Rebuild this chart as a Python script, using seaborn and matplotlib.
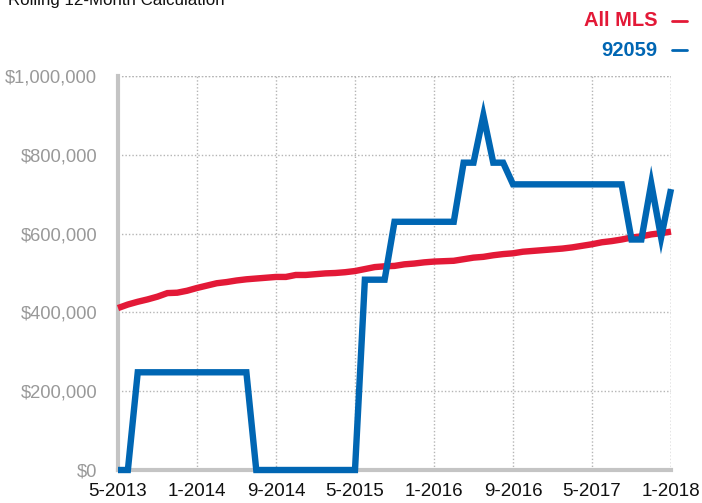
import matplotlib
matplotlib.use("Agg")
import matplotlib.pyplot as plt
import seaborn as sns
import pandas as pd
import numpy as np

tick_labels = ["5-2013", "1-2014", "9-2014", "5-2015", "1-2016", "9-2016", "5-2017", "1-2018"]

all_mls = [411, 420, 427, 433, 440, 449, 450, 455, 462, 468,
           474, 477, 481, 484, 486, 488, 490, 490, 495, 495,
           497, 499, 500, 502, 505, 510, 515, 517, 518, 522,
           524, 527, 529, 530, 531, 535, 539, 541, 545, 548,
           550, 554, 556, 558, 560, 562, 565, 569, 573, 578,
           581, 585, 590, 593, 598, 601, 605]

zip_92059 = [0, 0, 248, 248, 248, 248, 248, 248, 248, 248,
             248, 248, 248, 248, 0, 0, 0, 0, 0, 0,
             0, 0, 0, 0, 0, 483, 483, 483, 630, 630,
             630, 630, 630, 630, 630, 780, 780, 900, 780, 780,
             725, 725, 725, 725, 725, 725, 725, 725, 725, 725,
             725, 725, 585, 585, 727, 590, 713]

months = list(range(len(all_mls)))
df = pd.DataFrame({
    "month": months * 2,
    "price": [v * 1000 for v in all_mls] + [v * 1000 for v in zip_92059],
    "series": ["All MLS"] * len(all_mls) + ["92059"] * len(zip_92059),
})

sns.set_theme(style="white")
plt.rcParams['font.family'] = ['Liberation Sans', 'DejaVu Sans']

RED = "#E31937"
BLUE = "#0066B3"

fig = plt.figure(figsize=(7.02, 5.03), dpi=100)
ax = fig.add_axes([118 / 702, 1 - 470 / 503, (671 - 118) / 702, (470 - 76) / 503])

sns.lineplot(data=df, x="month", y="price", hue="series",
             palette={"All MLS": RED, "92059": BLUE},
             hue_order=["All MLS", "92059"], linewidth=4.6, ax=ax,
             legend=False, zorder=3, clip_on=False)
for ln in ax.lines:
    ln.set_solid_joinstyle("miter")
    ln.set_solid_capstyle("butt")

ax.set_xlim(0, 56)
ax.set_ylim(0, 1_000_000)
ax.set_xticks(range(0, 57, 8))
ax.set_xticklabels(tick_labels)
yt = list(range(0, 1_000_001, 200_000))
ax.set_yticks(yt)
ax.set_yticklabels(["$0", "$200,000", "$400,000", "$600,000", "$800,000", "$1,000,000"])
ax.set_xlabel("")
ax.set_ylabel("")

ax.grid(True, linestyle=(0, (1, 1.5)), color="#b5b5b5", linewidth=1.0)
ax.set_axisbelow(True)
for s in ["top", "right"]:
    ax.spines[s].set_visible(False)
for s in ["left", "bottom"]:
    ax.spines[s].set_color("#c4c4c4")
    ax.spines[s].set_linewidth(3)
    ax.spines[s].set_zorder(2.5)

ax.tick_params(axis="x", colors="#c4c4c4", length=5, width=3, direction="out",
               labelcolor="#111111", labelsize=13.5, pad=4)
ax.tick_params(axis="y", length=0, labelcolor="#999999", labelsize=13.2, pad=15)

# top and right grid edge lines
ax.axhline(1_000_000, color="#b5b5b5", linestyle=(0, (1, 1.5)), linewidth=1.0, zorder=1)
ax.axvline(56, color="#b5b5b5", linestyle=(0, (1, 1.5)), linewidth=1.0, zorder=1)

# title (cropped at top, as in the reference)
fig.text(8 / 702, 1 - 5 / 503, "Rolling 12-Month Calculation", fontsize=12.2,
         color="#111111", ha="left", va="baseline")

# legend
fig.text(657 / 702, 1 - 21 / 503, "All MLS", color=RED, fontsize=14.5,
         fontweight="bold", ha="right", va="center")
fig.text(657 / 702, 1 - 50 / 503, "92059", color=BLUE, fontsize=14.5,
         fontweight="bold", ha="right", va="center")
fig.lines.append(plt.Line2D([672 / 702, 687 / 702], [1 - 21 / 503, 1 - 21 / 503],
                            color=RED, linewidth=2.0, transform=fig.transFigure))
fig.lines.append(plt.Line2D([672 / 702, 687 / 702], [1 - 50 / 503, 1 - 50 / 503],
                            color=BLUE, linewidth=2.0, transform=fig.transFigure))

fig.savefig("out.png", dpi=100)
